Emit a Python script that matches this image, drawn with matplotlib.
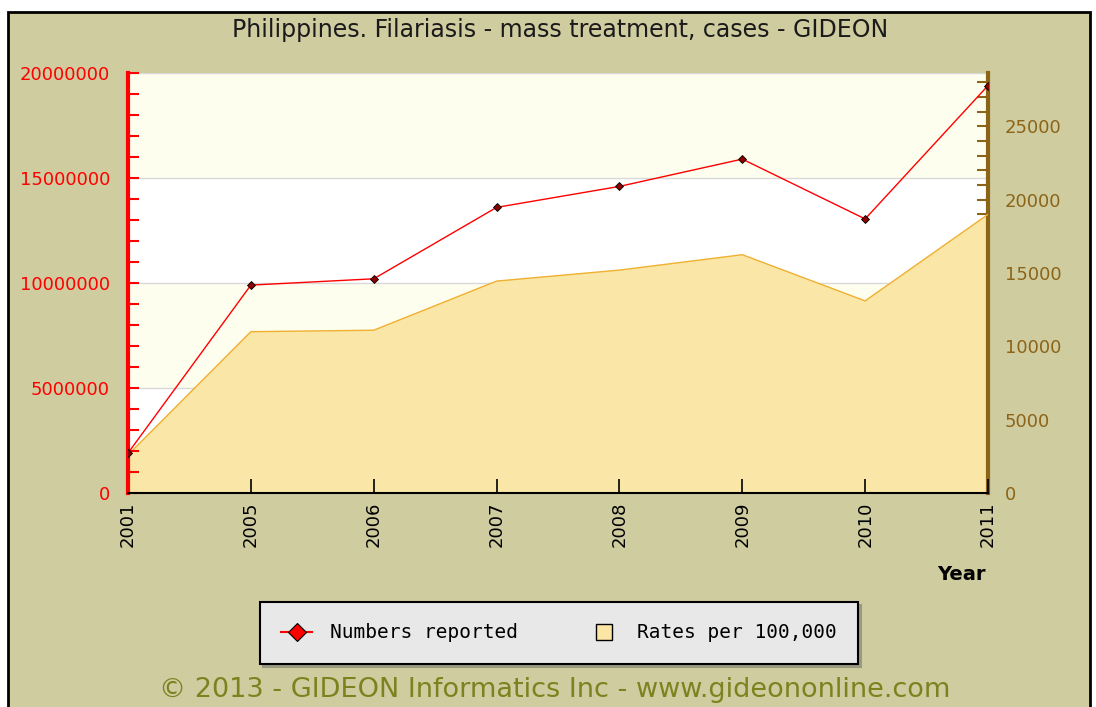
import matplotlib.pyplot as plt
from matplotlib.lines import Line2D
from matplotlib.patches import Rectangle
from matplotlib.ticker import MultipleLocator

years = ["2001", "2005", "2006", "2007", "2008", "2009", "2010", "2011"]
numbers_reported = [1.9e6, 9.9e6, 10.2e6, 13.6e6, 14.6e6, 15.9e6, 13.05e6, 19.4e6]
rates_per_100k = [2600, 11000, 11100, 14450, 15200, 16250, 13100, 19000]

left_max = 20000000
right_max = 28640

bg = "#CFCCA0"
brown = "#8C6418"

fig = plt.figure(figsize=(10.96, 7.07), dpi=100, facecolor="white")
# khaki panel with black border
fig.patches.append(Rectangle((8 / 1096, -0.02), 1082 / 1096, (707 - 12) / 707 + 0.02,
                             transform=fig.transFigure, facecolor=bg, edgecolor="black",
                             lw=2, zorder=-10))

ax = fig.add_axes([128 / 1096, 1 - 493 / 707, 860 / 1096, 420 / 707])
ax2 = ax.twinx()
ax.set_zorder(ax2.get_zorder() + 1)
ax.patch.set_visible(False)
ax2.patch.set_facecolor("white")

x = list(range(len(years)))
k = right_max / left_max

# background bands and grid (in left-axis units)
for lo, hi, c in [(0, 5e6, "white"), (5e6, 10e6, "#FEFEEF"), (10e6, 15e6, "white"), (15e6, 20e6, "#FEFEEF")]:
    ax2.axhspan(lo * k, hi * k, color=c, zorder=0, lw=0)
for g in [5e6, 10e6, 15e6, 20e6]:
    ax2.axhline(g * k, color="#D9D9D9", lw=1, zorder=1)

# rates area
ax2.fill_between(x, rates_per_100k, 0, facecolor="#FAE6A6", edgecolor="none", zorder=2)
ax2.plot(x, rates_per_100k, color="#F0B030", lw=1, zorder=3)

# numbers line
ax.plot(x, numbers_reported, color="red", lw=1, marker="D", markersize=4,
        markerfacecolor="#8B0000", markeredgecolor="black", markeredgewidth=0.6, zorder=5)

ax.set_xlim(0, len(years) - 1)
ax.set_ylim(0, left_max)
ax2.set_ylim(0, right_max)

ax.set_xticks(x)
ax.set_xticklabels(years, rotation=90, fontsize=13, color="black")
ax.tick_params(axis="x", direction="in", length=10, width=1.2, color="black", pad=6)

ax.yaxis.set_major_locator(MultipleLocator(5000000))
ax.yaxis.set_minor_locator(MultipleLocator(1000000))
ax.yaxis.set_major_formatter(lambda v, p: f"{int(v)}")
ax.tick_params(axis="y", which="both", direction="in", length=8, width=1.5, color="red",
               labelcolor="red", labelsize=13, pad=13)

ax2.yaxis.set_major_locator(MultipleLocator(5000))
ax2.yaxis.set_minor_locator(MultipleLocator(1000))
ax2.tick_params(axis="y", which="both", direction="in", length=8, width=1.5, color=brown,
                labelcolor=brown, labelsize=13, pad=12)

for a in (ax, ax2):
    a.spines["top"].set_visible(False)
ax.spines["right"].set_visible(False)
ax2.spines["left"].set_visible(False)
ax2.spines["bottom"].set_visible(False)
ax.spines["left"].set_color("red")
ax.spines["left"].set_linewidth(3)
ax.spines["bottom"].set_color("black")
ax.spines["bottom"].set_linewidth(1.5)
ax2.spines["right"].set_color(brown)
ax2.spines["right"].set_linewidth(3)

fig.text(560 / 1096, 1 - 30 / 707, "Philippines. Filariasis - mass treatment, cases - GIDEON",
         ha="center", va="center", fontsize=17, color="#1a1a1a")
fig.text(986 / 1096, 1 - 575 / 707, "Year", ha="right", va="center",
         fontsize=14, fontweight="bold", color="black")

handles = [
    Line2D([0], [0], color="red", lw=1.5, marker="D", markersize=9,
           markerfacecolor="red", markeredgecolor="black", markeredgewidth=0.8),
    Line2D([0], [0], linestyle="none", marker="s", markersize=11,
           markerfacecolor="#FBE6A6", markeredgecolor="black", markeredgewidth=1),
]
leg = fig.legend(handles, ["Numbers reported", "Rates per 100,000"], ncol=2,
                 loc="center", bbox_to_anchor=(250 / 1096, 1 - 663 / 707, 618 / 1096, 60 / 707),
                 mode="expand", frameon=True, fancybox=False, shadow={"color": "#9a9a80", "alpha": 1},
                 facecolor="#E8E8E8", edgecolor="black", framealpha=1,
                 prop={"family": "DejaVu Sans Mono", "size": 14},
                 handlelength=1.6, handletextpad=0.9, borderpad=1.1)
leg.get_frame().set_linewidth(1.5)

fig.text(555 / 1096, 1 - 690 / 707, "\u00a9 2013 - GIDEON Informatics Inc - www.gideononline.com",
         ha="center", va="center", fontsize=19.5, color="#7C821E")

fig.savefig("out.png", dpi=100, facecolor=fig.get_facecolor())
